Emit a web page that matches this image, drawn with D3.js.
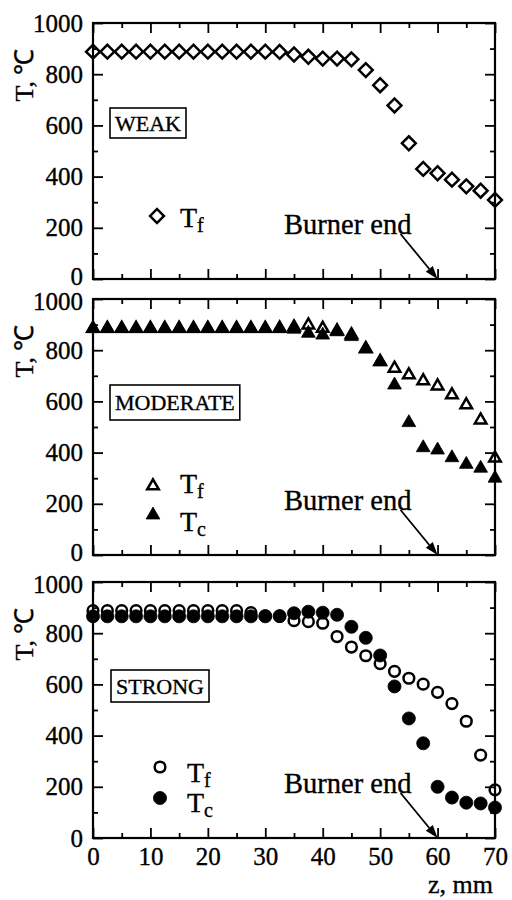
<!DOCTYPE html>
<html><head><meta charset="utf-8">
<script src="https://cdn.jsdelivr.net/npm/d3@7"></script>
<style>
body{margin:0;background:#fff;}
svg{display:block;}
text{font-family:"Liberation Serif","Times New Roman",serif;fill:#000;stroke:#000;stroke-width:0.35px;}
</style></head><body>
<svg id="chart" width="512" height="900"></svg>
<script>
// ---- data ----
const zValues = [0,2.5,5,7.5,10,12.5,15,17.5,20,22.5,25,27.5,30,32.5,35,37.5,40,42.5,45,47.5,50,52.5,55,57.5,60,62.5,65,67.5,70];
const weakTf = [888,888,888,888,888,888,888,888,888,888,888,888,888,887,877,868,861,861,858,816,757,678,530,430,413,388,362,345,309];
const moderateTf = [885,885,885,885,885,885,885,885,885,885,885,885,885,886,890,898,885,875,860,805,755,729,703,680,660,625,586,527,378];
const moderateTc = [884,884,884,884,884,884,884,884,884,884,884,884,884,884,882,866,859,872,853,807,755,664,517,419,410,380,354,339,300];
const strongTf = [888,888,888,888,888,888,888,888,888,888,888,880,868,866,849,845,839,787,746,712,681,651,624,601,569,525,456,324,188];
const strongTc = [866,866,866,866,866,866,866,866,866,866,866,866,866,867,878,884,880,872,825,782,713,592,467,370,200,158,138,135,119];
const panelNames = ["WEAK","MODERATE","STRONG"];
const yTicks = [0,200,400,600,800,1000];
const yMinor = [100,300,500,700,900];
const xTicks = [0,10,20,30,40,50,60,70];
const xMinor = [5,15,25,35,45,55,65];
const burnerEnd = 60;

// ---- layout ----
const svg = d3.select("#chart");
svg.append("rect").attr("width",512).attr("height",900).attr("fill","#fff");
const left = 93, right = 495, panelH = 256;
const panelTops = [23, 299, 582];
const x = d3.scaleLinear().domain([0,70]).range([left,right]);

const shapes = {
  diamond: {type:d3.symbolSquare, size:96, rot:45},
  triOpen: {type:d3.symbolTriangle, size:58, rot:0},
  triFill: {type:d3.symbolTriangle, size:82, rot:0},
  cirOpen: {type:d3.symbolCircle, size:90, rot:0},
  cirFill: {type:d3.symbolCircle, size:134, rot:0}
};
function drawMarker(g, shape, filled, cx, cy){
  const s = shapes[shape];
  g.append("path")
    .attr("d", d3.symbol().type(s.type).size(s.size)())
    .attr("transform", `translate(${cx},${cy}) rotate(${s.rot})`)
    .attr("fill", filled ? "#000" : "none")
    .attr("stroke", "#000")
    .attr("stroke-width", filled ? 0.8 : 2.5);
}

const panels = [
  {name:panelNames[0], series:[{vals:weakTf, shape:"diamond", filled:false, sub:"f"}],
   legend:[{mx:157,my:193,tx:180,ty:204}], box:{x:110,y:85,h:30}},
  {name:panelNames[1], series:[{vals:moderateTf, shape:"triOpen", filled:false, sub:"f"},{vals:moderateTc, shape:"triFill", filled:true, sub:"c"}],
   legend:[{mx:153,my:187,tx:180,ty:194},{mx:153,my:216,tx:180,ty:232}], box:{x:110,y:86,h:35}},
  {name:panelNames[2], series:[{vals:strongTf, shape:"cirOpen", filled:false, sub:"f"},{vals:strongTc, shape:"cirFill", filled:true, sub:"c"}],
   legend:[{mx:160,my:185,tx:187,ty:200},{mx:160,my:216,tx:187,ty:230}], box:{x:111,y:88,h:32}}
];

panels.forEach((p,i)=>{
  const top = panelTops[i], bottom = top + panelH;
  const y = d3.scaleLinear().domain([0,1000]).range([bottom, top]);
  const g = svg.append("g");

  const ax = (gen, tr) => {
    const a = g.append("g").attr("transform", tr).call(gen);
    a.select(".domain").remove();
    a.selectAll(".tick line").attr("stroke","#000").attr("stroke-width",1.8);
    a.selectAll("text").attr("font-size",25).attr("font-family",'"Liberation Serif",serif').attr("fill","#000");
    return a;
  };
  const yl = ax(d3.axisLeft(y).tickValues(yTicks).tickSize(-10).tickPadding(10).tickFormat(d3.format("d")), `translate(${left},0)`);
  // keep the adjacent "0" / "1000" labels of stacked panels from touching
  yl.selectAll(".tick").filter(d => d === 0 && i < 2).select("text").attr("dy","0.2em");
  yl.selectAll(".tick").filter(d => d === 1000 && i > 0).select("text").attr("dy","0.42em");
  ax(d3.axisLeft(y).tickValues(yMinor).tickSize(-5).tickFormat(""), `translate(${left},0)`);
  ax(d3.axisRight(y).tickValues(yTicks).tickSize(-10).tickFormat(""), `translate(${right},0)`);
  ax(d3.axisRight(y).tickValues(yMinor).tickSize(-5).tickFormat(""), `translate(${right},0)`);
  ax(d3.axisTop(x).tickValues(xTicks).tickSize(-10).tickFormat(""), `translate(0,${top})`);
  ax(d3.axisTop(x).tickValues(xMinor).tickSize(-5).tickFormat(""), `translate(0,${top})`);
  ax(d3.axisBottom(x).tickValues(xTicks).tickSize(-10).tickPadding(9).tickFormat(i===2 ? d3.format("d") : ""), `translate(0,${bottom})`);
  ax(d3.axisBottom(x).tickValues(xMinor).tickSize(-5).tickFormat(""), `translate(0,${bottom})`);

  g.append("rect").attr("x",left).attr("y",top).attr("width",right-left).attr("height",panelH)
    .attr("fill","none").attr("stroke","#000").attr("stroke-width",2.2);

  g.append("text").attr("transform",`translate(24,${top+52}) rotate(-90)`)
    .attr("text-anchor","middle").attr("dominant-baseline","central")
    .attr("font-size",26).text("T, ℃");

  const bt = g.append("text").attr("x",p.box.x+5).attr("y",top+p.box.y+p.box.h/2)
    .attr("dominant-baseline","central").attr("font-size",22).text(p.name);
  const bw = bt.node().getComputedTextLength();
  g.append("rect").attr("x",p.box.x).attr("y",top+p.box.y).attr("width",bw+10).attr("height",p.box.h)
    .attr("fill","none").attr("stroke","#000").attr("stroke-width",1.6);

  p.series.forEach(s=>{
    s.vals.forEach((v,k)=> drawMarker(g, s.shape, s.filled, x(zValues[k]), y(v)));
  });

  p.series.forEach((s,k)=>{
    const L = p.legend[k];
    drawMarker(g, s.shape, s.filled, L.mx, top+L.my);
    const t = g.append("text").attr("x",L.tx).attr("y",top+L.ty).attr("font-size",28);
    t.append("tspan").text("T");
    t.append("tspan").attr("dy",5).attr("font-size",20).text(s.sub);
  });

  g.append("text").attr("x",284).attr("y",top+211).attr("font-size",28.5).text("Burner end");
  const ex = x(burnerEnd), ey = y(0);
  const sx = ex - 37, sy = ey - 45;
  const ang = Math.atan2(ey - sy, ex - sx);
  const hl = 13, hw = 4.5;
  const bx = ex - hl*Math.cos(ang), by = ey - hl*Math.sin(ang);
  g.append("line").attr("x1",sx).attr("y1",sy).attr("x2",bx).attr("y2",by)
    .attr("stroke","#000").attr("stroke-width",1.8);
  g.append("path").attr("d",`M${ex},${ey}L${bx - hw*Math.sin(ang)},${by + hw*Math.cos(ang)}L${bx + hw*Math.sin(ang)},${by - hw*Math.cos(ang)}Z`)
    .attr("fill","#000");
});

svg.append("text").attr("x",493).attr("y",893).attr("text-anchor","end").attr("font-size",26).text("z, mm");
</script>
</body></html>
